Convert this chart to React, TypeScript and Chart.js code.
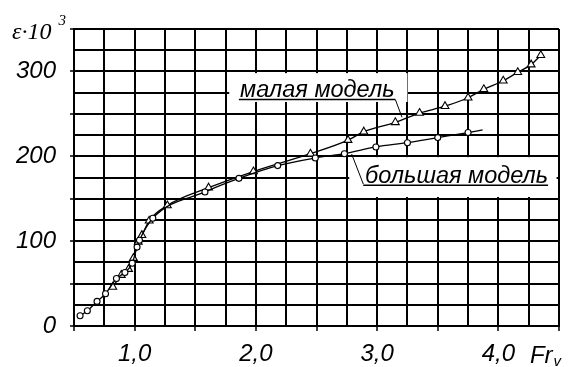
import React, { useEffect, useRef } from "react";
import { Chart, registerables } from "chart.js";

Chart.register(...registerables);

// ---- data (Fr_v, ε·10^3) ----
const smallX = [0.82, 0.89, 0.95, 0.99, 1.03, 1.06, 1.12, 1.27, 1.61, 1.98, 2.45, 2.76, 2.89, 3.15, 3.35, 3.56, 3.75, 3.88, 4.04, 4.16, 4.27, 4.35];
const smallY = [46, 60, 67, 80, 99, 107, 124, 142, 163, 182, 203, 219, 229, 240, 251, 259, 269, 279, 289, 299, 308, 319];

const largeX = [0.55, 0.61, 0.69, 0.76, 0.85, 0.92, 0.98, 1.02, 1.04, 1.15, 1.58, 1.86, 2.18, 2.49, 2.73, 2.99, 3.25, 3.5, 3.75, 3.87];
const largeY = [12, 18, 29, 38, 56, 63, 74, 93, 101, 127, 158, 174, 189, 198, 203, 211, 216, 222, 228, 231];
const largeMarked = [true, true, true, true, true, true, true, true, true, true, true, true, true, true, true, true, true, true, true, false];

const xLabelValues = [1, 2, 3, 4];
const xLabelTexts = ["1,0", "2,0", "3,0", "4,0"];
const yLabelValues = [0, 100, 200, 300];
const yLabelTexts = ["0", "100", "200", "300"];

const smallName = "малая модель";
const largeName = "большая модель";
const yTitleMain = "ε·10";
const yTitleSup = "3";
const xTitleMain = "Fr";
const xTitleSub = "v";

// annotation anchors in data units
const smallBox = [1.78, 3.25, 298, 264];
const smallText = [1.87, 270];
const smallUnder = [1.86, 3.15, 267];
const smallLeader = [3.15, 267, 3.205, 246];

const largeBox = [2.77, 4.48, 199, 152];
const largeText = [2.9, 168.5];
const largeUnder = [2.885, 4.41, 166];
const largeLeader = [2.79, 202.6, 2.886, 167.3];

export default function App() {
  const ref = useRef<HTMLCanvasElement>(null);

  useEffect(() => {
    const canvas = ref.current!;
    const annot = {
      id: "annot",
      beforeDatasetsDraw(chart: any) {
        const { ctx, scales } = chart;
        const xs = scales.x, ys = scales.y;
        const X = (v: number) => xs.getPixelForValue(v);
        const Y = (v: number) => ys.getPixelForValue(v);
        ctx.save();
        const drawBox = (b: number[], t: number[], u: number[], l: number[], label: string) => {
          ctx.fillStyle = "#ffffff";
          ctx.fillRect(X(b[0]), Y(b[2]), X(b[1]) - X(b[0]), Y(b[3]) - Y(b[2]));
          ctx.fillStyle = "#000";
          ctx.font = "italic 23.5px 'Liberation Sans', Arial, sans-serif";
          ctx.textAlign = "left";
          ctx.textBaseline = "alphabetic";
          ctx.fillText(label, X(t[0]), Y(t[1]));
          ctx.strokeStyle = "#000";
          ctx.lineWidth = 1.5;
          ctx.beginPath();
          ctx.moveTo(X(u[0]), Y(u[2]));
          ctx.lineTo(X(u[1]), Y(u[2]));
          ctx.stroke();
          ctx.lineWidth = 1;
          ctx.beginPath();
          ctx.moveTo(X(l[0]), Y(l[1]));
          ctx.lineTo(X(l[2]), Y(l[3]));
          ctx.stroke();
        };
        drawBox(smallBox, smallText, smallUnder, smallLeader, smallName);
        drawBox(largeBox, largeText, largeUnder, largeLeader, largeName);
        ctx.restore();
      },
      afterDraw(chart: any) {
        const { ctx, chartArea, scales } = chart;
        ctx.save();
        ctx.fillStyle = "#000";
        ctx.textAlign = "left";
        ctx.textBaseline = "alphabetic";
        ctx.font = "italic 24px 'Liberation Serif', 'Times New Roman', serif";
        const tx = chartArea.left - 62;
        const ty = chartArea.top + 10;
        ctx.fillText(yTitleMain, tx, ty);
        const w = ctx.measureText(yTitleMain).width;
        ctx.font = "italic 15px 'Liberation Serif', 'Times New Roman', serif";
        ctx.fillText(yTitleSup, tx + w + 7, ty - 14);
        ctx.font = "italic 24px 'Liberation Sans', Arial, sans-serif";
        const fx = scales.x.getPixelForValue(4.26);
        const fy = chartArea.bottom + 37;
        ctx.fillText(xTitleMain, fx, fy);
        const fw = ctx.measureText(xTitleMain).width;
        ctx.font = "italic 15px 'Liberation Sans', Arial, sans-serif";
        ctx.fillText(xTitleSub, fx + fw + 1, fy + 3);
        ctx.restore();
      },
    };

    const chart = new Chart(canvas, {
      type: "line",
      data: {
        datasets: [
          {
            label: largeName,
            data: largeX.map((x, i) => ({ x, y: largeY[i] })),
            borderColor: "#000",
            borderWidth: 1.3,
            backgroundColor: "#fff",
            pointStyle: "circle",
            pointRadius: largeMarked.map((m) => (m ? 3 : 0)),
            pointBorderWidth: 1.1,
            pointBorderColor: "#000",
            pointBackgroundColor: "#fff",
            cubicInterpolationMode: "monotone",
            fill: false,
          },
          {
            label: smallName,
            data: smallX.map((x, i) => ({ x, y: smallY[i] })),
            borderColor: "#000",
            borderWidth: 1.3,
            backgroundColor: "#fff",
            pointStyle: "triangle",
            pointRadius: 4.5,
            pointBorderWidth: 1.1,
            pointBorderColor: "#000",
            pointBackgroundColor: "#fff",
            cubicInterpolationMode: "monotone",
            fill: false,
          },
        ],
      },
      options: {
        responsive: false,
        animation: false,
        devicePixelRatio: 1,
        layout: { padding: { top: 29, right: 10, left: 0, bottom: 0 } },
        plugins: { legend: { display: false }, tooltip: { enabled: false } },
        scales: {
          x: {
            type: "linear",
            min: 0.5,
            max: 4.5,
            afterFit: (s: any) => { s.height = 41; },
            afterBuildTicks: (s: any) => {
              const t = [];
              for (let i = 0; i <= 16; i++) t.push({ value: 0.5 + i * 0.25 });
              s.ticks = t;
            },
            ticks: {
              autoSkip: false,
              maxRotation: 0,
              padding: 9,
              color: "#000",
              font: { family: "'Liberation Sans', Arial, sans-serif", size: 24, style: "italic" },
              callback: (v: any) => {
                const i = xLabelValues.findIndex((q) => Math.abs(q - v) < 1e-6);
                return i >= 0 ? xLabelTexts[i] : "";
              },
            },
            grid: {
              color: "#000",
              lineWidth: 2,
              tickLength: 5,
              tickWidth: 1.5,
              tickColor: (c: any) => (c.tick && Math.abs((c.tick.value * 2) % 1) < 1e-6 ? "#000" : "rgba(0,0,0,0)"),
            },
            border: { display: true, color: "#000", width: 2 },
          },
          y: {
            type: "linear",
            min: 0,
            max: 350,
            afterFit: (s: any) => { s.width = 74; },
            afterBuildTicks: (s: any) => {
              const t = [];
              for (let i = 0; i <= 14; i++) t.push({ value: i * 25 });
              s.ticks = t;
            },
            ticks: {
              autoSkip: false,
              padding: 14,
              color: "#000",
              font: { family: "'Liberation Sans', Arial, sans-serif", size: 24, style: "italic" },
              callback: (v: any) => {
                const i = yLabelValues.indexOf(v);
                return i >= 0 ? yLabelTexts[i] : "";
              },
            },
            grid: {
              color: "#000",
              lineWidth: 2,
              tickLength: 4,
              tickWidth: 1.5,
              tickColor: (c: any) => (c.tick && c.tick.value % 50 === 0 ? "#000" : "rgba(0,0,0,0)"),
            },
            border: { display: true, color: "#000", width: 2 },
          },
        },
      },
      plugins: [annot],
    } as any);
    return () => chart.destroy();
  }, []);

  return (
    <div style={{ position: "absolute", left: 0, top: 0, width: 569, height: 367, background: "#fff" }}>
      <canvas ref={ref} width={569} height={367} style={{ display: "block", width: 569, height: 367 }} />
    </div>
  );
}
